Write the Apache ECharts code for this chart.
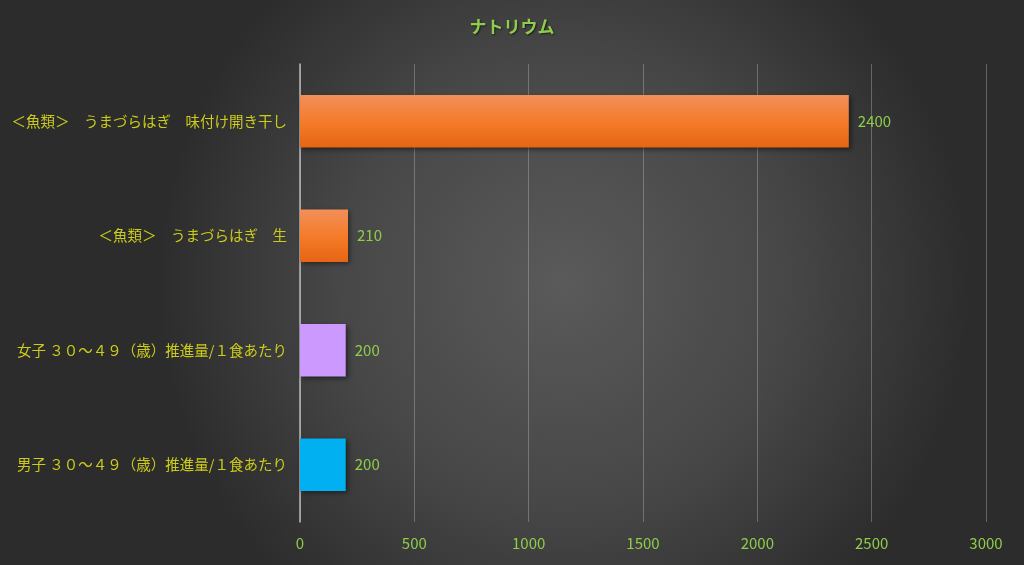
<!DOCTYPE html>
<html><head><meta charset="utf-8">
<script src="https://cdn.jsdelivr.net/npm/echarts@6/dist/echarts.min.js"></script>
<style>html,body{margin:0;padding:0;background:#404040}#c{width:1024px;height:565px}</style>
</head><body><div id="c"></div>
<script>
const categories = ['男子 ３０～４９（歳）推進量/１食あたり','女子 ３０～４９（歳）推進量/１食あたり','＜魚類＞　うまづらはぎ　生','＜魚類＞　うまづらはぎ　味付け開き干し'];
const values = [200, 200, 210, 2400];
const barColors = [
  '#00b0f0',
  '#cc99ff',
  {type:'linear',x:0,y:0,x2:0,y2:1,colorStops:[{offset:0,color:'#f28f5a'},{offset:0.5,color:'#f47c2a'},{offset:1,color:'#e66514'}]},
  {type:'linear',x:0,y:0,x2:0,y2:1,colorStops:[{offset:0,color:'#f28f5a'},{offset:0.5,color:'#f47c2a'},{offset:1,color:'#e66514'}]}
];
const xTicks = [0,500,1000,1500,2000,2500,3000];
const chart = echarts.init(document.getElementById('c'));
const font = '"Noto Sans CJK JP", "Noto Sans", sans-serif';
chart.setOption({
  backgroundColor: {type:'radial',x:0.55,y:0.5,r:0.72,colorStops:[{offset:0,color:'#5a5a5a'},{offset:0.55,color:'#474747'},{offset:1,color:'#2c2c2c'}]},
  title: {text:'ナトリウム', left:'center', top:13,
    textStyle:{color:'#8fce4a', fontSize:17, fontWeight:'bold', fontFamily:font, textShadowColor:'rgba(0,0,0,0.6)', textShadowBlur:2, textShadowOffsetX:1, textShadowOffsetY:1}},
  grid: {left:300, right:38, top:64, bottom:43, containLabel:false},
  xAxis: {type:'value', min:xTicks[0], max:xTicks[xTicks.length-1], interval:500,
    axisLine:{show:false}, axisTick:{show:false},
    axisLabel:{color:'#8fce4a', fontSize:15, margin:14, fontFamily:font, formatter:v=>String(v)},
    splitLine:{show:true, lineStyle:{color:'rgba(200,200,200,0.35)', width:1}}},
  yAxis: {type:'category', data:categories,
    axisLine:{show:true, lineStyle:{color:'#b8b8b8', width:1.5}}, axisTick:{show:false},
    axisLabel:{color:'#cccc1a', fontSize:14.5, margin:13, fontFamily:font}},
  series: [{type:'bar', barWidth:'46%',
    data: values.map((v,i)=>({value:v, itemStyle:{color:barColors[i]}})),
    itemStyle:{shadowColor:'rgba(0,0,0,0.5)', shadowBlur:5, shadowOffsetX:2, shadowOffsetY:2},
    label:{show:true, position:'right', distance:9, color:'#8fce4a', fontSize:15, fontFamily:font}
  }]
});
</script></body></html>
